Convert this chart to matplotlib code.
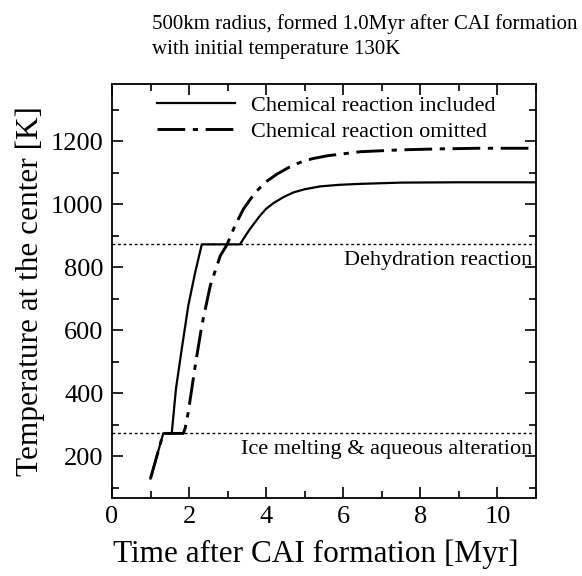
import matplotlib
matplotlib.use('Agg')
import matplotlib.pyplot as plt
from matplotlib.ticker import MultipleLocator

plt.rcParams['font.family'] = ['Liberation Serif', 'DejaVu Serif']

# curves
t_incl = [1.0, 1.33, 1.55, 1.66, 1.81, 1.98, 2.16, 2.33, 3.32, 3.45, 3.58,
          3.84, 4.0, 4.19, 4.45, 4.71, 5.0, 5.40, 5.9, 6.44, 7.5, 9.0, 11.0]
T_incl = [130, 273, 273, 415, 541, 679, 785, 873, 873, 898, 922,
          964, 986, 1004, 1023, 1038, 1048, 1057, 1062, 1065, 1069, 1070, 1070]

t_omit = [1.0, 1.33, 1.85, 1.90, 1.98, 2.16, 2.33, 2.55, 2.81, 2.98, 3.19,
          3.41, 3.6, 3.76, 4.0, 4.28, 4.6, 4.88, 5.2, 5.58, 6.44, 7.5, 8.5,
          9.5, 11.0]
T_omit = [130, 273, 273, 290, 341, 488, 615, 742, 837, 871, 932,
          985, 1018, 1043, 1072, 1096, 1118, 1133, 1145, 1154, 1167, 1173, 1176,
          1178, 1178]

T_dehydration = 873
T_ice = 273

fig = plt.figure(figsize=(5.82, 5.76), dpi=100)
ax = fig.add_axes([0.1924, 0.1354, 0.7286, 0.7188])

ax.plot(t_incl, T_incl, color='black', lw=1.6, label='Chemical reaction included')
ax.plot(t_omit, T_omit, color='black', lw=2.1, dashes=(9.5, 2.6, 1.8, 2.6),
        label='Chemical reaction omitted')

ax.axhline(T_dehydration, color='black', lw=1.0, ls=(0, (2, 2)))
ax.axhline(T_ice, color='black', lw=1.0, ls=(0, (2, 2)))
ax.text(10.9, T_dehydration - 22, 'Dehydration reaction', ha='right', va='top',
        fontsize=16)
ax.text(10.9, T_ice - 22, 'Ice melting & aqueous alteration', ha='right',
        va='top', fontsize=16)

ax.set_xlim(0, 11)
ax.set_ylim(68, 1382)
ax.xaxis.set_major_locator(MultipleLocator(2))
ax.xaxis.set_minor_locator(MultipleLocator(1))
ax.yaxis.set_major_locator(MultipleLocator(200))
ax.yaxis.set_minor_locator(MultipleLocator(100))
ax.tick_params(which='both', direction='in', top=True, right=True, width=1.2,
               labelsize=19, pad=6)
ax.tick_params(which='major', length=8)
ax.tick_params(which='minor', length=5)
ax.set_xticks([0, 2, 4, 6, 8, 10])
for s in ax.spines.values():
    s.set_linewidth(1.3)

ax.set_xlabel('Time after CAI formation [Myr]', fontsize=22.5)
ax.xaxis.set_label_coords(0.481, -0.1)
ax.set_ylabel('Temperature at the center [K]', fontsize=22.5, labelpad=4)

leg = ax.legend(loc='upper left', bbox_to_anchor=(0.08, 1.0), frameon=False,
                fontsize=16, handlelength=3.5, handletextpad=0.75,
                labelspacing=0.25, borderaxespad=0.1)

fig.text(0.261, 0.936, '500km radius, formed 1.0Myr after CAI formation\n'
         'with initial temperature 130K', ha='left', va='center', fontsize=15,
         linespacing=1.45)

fig.savefig('out.png', dpi=100)
